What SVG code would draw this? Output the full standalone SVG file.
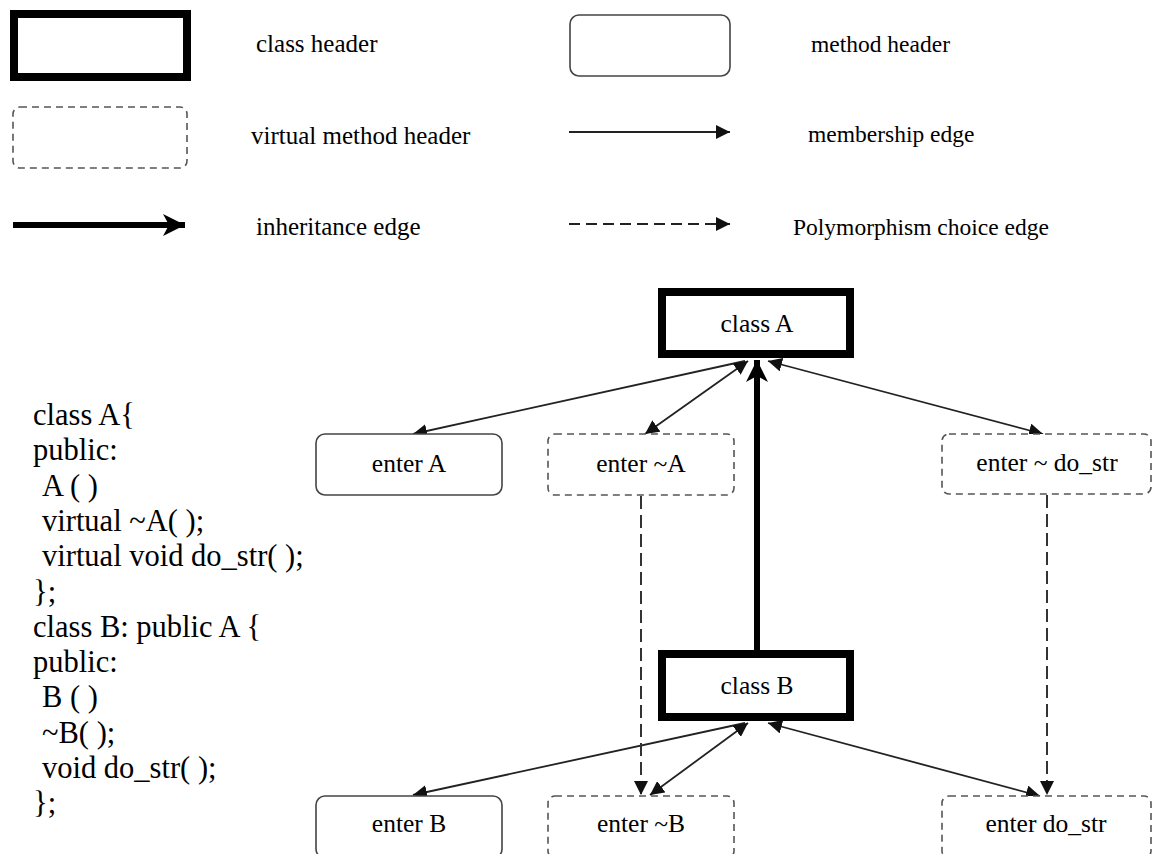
<svg xmlns="http://www.w3.org/2000/svg" width="1165" height="854" viewBox="0 0 1165 854">
  <style>
    text { font-family: "Liberation Serif", "Times New Roman", serif; fill: #000; }
    .lbl { font-size: 25px; }
    .lbr { font-size: 23.5px; }
    .node { font-size: 25.5px; text-anchor: middle; }
    .code { font-size: 30.5px; }
    .cls { fill: #fff; stroke: #000; stroke-width: 8; }
    .meth { fill: #fff; stroke: #444; stroke-width: 1.6; }
    .virt { fill: #fff; stroke: #555; stroke-width: 1.6; stroke-dasharray: 7 5; }
    .member { fill: none; stroke: #222; stroke-width: 1.8; }
    .poly { fill: none; stroke: #333; stroke-width: 2; stroke-dasharray: 13 6; }
    .inherit { fill: none; stroke: #000; stroke-width: 6; }
  </style>
  <defs>
    <marker id="head" markerUnits="userSpaceOnUse" markerWidth="15" markerHeight="14" refX="14" refY="7" orient="auto-start-reverse">
      <path d="M0,0 L14,7 L0,14 z" fill="#111"/>
    </marker>
    <marker id="bighead" markerUnits="userSpaceOnUse" markerWidth="24" markerHeight="24" refX="22" refY="11" orient="auto">
      <path d="M0,0 L22,11 L0,22 L6,11 z" fill="#000"/>
    </marker>
  </defs>

  <!-- legend -->
  <g id="legend">
    <rect class="cls" x="14" y="14" width="173" height="63"/>
    <text class="lbl" x="256" y="52">class header</text>
    <rect class="meth" x="570" y="15" width="160" height="61" rx="9"/>
    <text class="lbr" x="811" y="52">method header</text>
    <rect class="virt" x="13" y="107" width="174" height="61" rx="7"/>
    <text class="lbl" x="251" y="144">virtual method header</text>
    <line class="member" x1="569" y1="132" x2="730" y2="132" marker-end="url(#head)"/>
    <text class="lbr" x="808" y="142">membership edge</text>
    <line class="inherit" x1="13" y1="225" x2="185" y2="225" marker-end="url(#bighead)"/>
    <text class="lbl" x="256" y="235">inheritance edge</text>
    <line x1="569" y1="224" x2="730" y2="224" stroke="#222" stroke-width="1.8" stroke-dasharray="11 6" marker-end="url(#head)"/>
    <text class="lbr" x="793" y="235">Polymorphism choice edge</text>
  </g>

  <!-- source code -->
  <g id="source">
    <text class="code" x="33" y="425">class A{</text>
    <text class="code" x="33" y="460">public:</text>
    <text class="code" x="42" y="496">A ( )</text>
    <text class="code" x="42" y="531">virtual ~A( );</text>
    <text class="code" x="42" y="566">virtual void do_str( );</text>
    <text class="code" x="33" y="602">};</text>
    <text class="code" x="33" y="637">class B: public A {</text>
    <text class="code" x="33" y="672">public:</text>
    <text class="code" x="42" y="707">B ( )</text>
    <text class="code" x="42" y="743">~B( );</text>
    <text class="code" x="42" y="778">void do_str( );</text>
    <text class="code" x="33" y="813">};</text>
  </g>

  <!-- connectors -->
  <g id="connectors">
    <line class="inherit" x1="757" y1="650" x2="757" y2="360" marker-end="url(#bighead)"/>
    <line class="member" x1="745" y1="361" x2="413" y2="434" marker-end="url(#head)"/>
    <line class="member" x1="748" y1="361" x2="645" y2="434" marker-start="url(#head)" marker-end="url(#head)"/>
    <line class="member" x1="768" y1="361" x2="1043" y2="434" marker-start="url(#head)" marker-end="url(#head)"/>
    <line class="member" x1="745" y1="723" x2="413" y2="795" marker-end="url(#head)"/>
    <line class="member" x1="748" y1="723" x2="650" y2="795" marker-start="url(#head)" marker-end="url(#head)"/>
    <line class="member" x1="768" y1="723" x2="1040" y2="796" marker-start="url(#head)" marker-end="url(#head)"/>
    <line class="poly" x1="641" y1="496" x2="641" y2="795" marker-end="url(#head)"/>
    <line class="poly" x1="1047" y1="495" x2="1047" y2="795" marker-end="url(#head)"/>
  </g>

  <!-- nodes -->
  <g id="classA">
    <rect class="cls" x="662" y="292" width="188" height="62"/>
    <text class="node" x="757" y="332">class A</text>
  </g>
  <g id="enterA">
    <rect class="meth" x="316" y="434" width="186" height="61" rx="9"/>
    <text class="node" x="409" y="472">enter A</text>
  </g>
  <g id="enterDtorA">
    <rect class="virt" x="548" y="434" width="186" height="61" rx="7"/>
    <text class="node" x="641" y="472">enter ~A</text>
  </g>
  <g id="enterVirtDoStr">
    <rect class="virt" x="942" y="434" width="209" height="60" rx="7"/>
    <text class="node" x="1047" y="471">enter ~ do_str</text>
  </g>
  <g id="classB">
    <rect class="cls" x="662" y="654" width="188" height="63"/>
    <text class="node" x="757" y="694">class B</text>
  </g>
  <g id="enterB">
    <rect class="meth" x="316" y="796" width="186" height="62" rx="9"/>
    <text class="node" x="409" y="832">enter B</text>
  </g>
  <g id="enterDtorB">
    <rect class="virt" x="548" y="796" width="186" height="62" rx="7"/>
    <text class="node" x="641" y="832">enter ~B</text>
  </g>
  <g id="enterDoStr">
    <rect class="virt" x="942" y="796" width="209" height="62" rx="7"/>
    <text class="node" x="1046" y="832">enter do_str</text>
  </g>
</svg>
